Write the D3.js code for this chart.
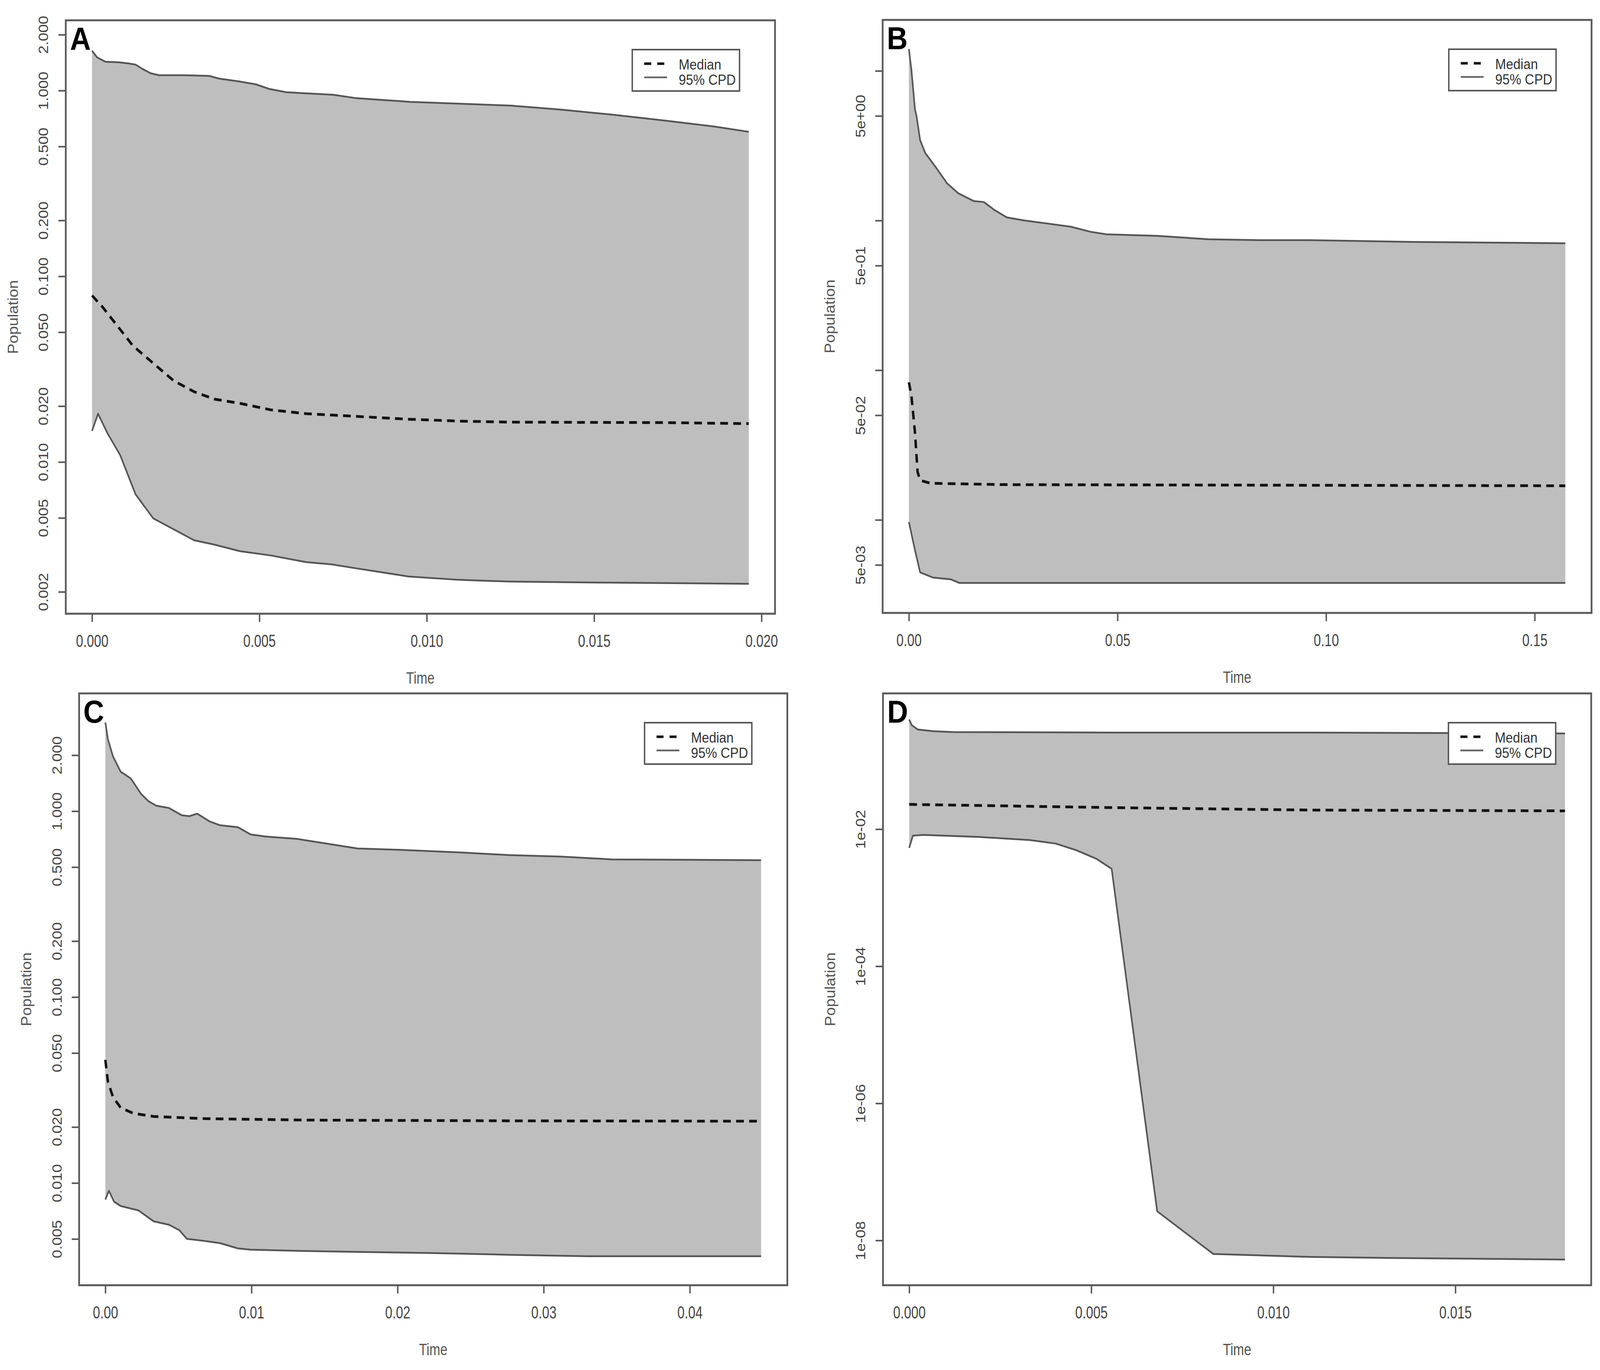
<!DOCTYPE html>
<html><head><meta charset="utf-8">
<script src="https://cdn.jsdelivr.net/npm/d3@7"></script>
<style>html,body{margin:0;padding:0;background:#fff;overflow:hidden;width:100%;height:100%}svg{display:block;width:100vw;height:100vh}</style>
</head><body><svg id="c" viewBox="0 0 4550 3507" preserveAspectRatio="none"></svg>
<script>
// ---------- DATA ----------
const panelLetters = ["A", "B", "C", "D"];
const legendLabels = ["Median", "95% CPD"];
const xTitle = "Time";
const yTitle = "Population";

// Panel A
const aUpperTime = [0, 0.00015, 0.0004, 0.0008, 0.0011, 0.0013, 0.0015, 0.00175, 0.002, 0.0027, 0.0035, 0.0038, 0.0044, 0.0049, 0.0053, 0.0058, 0.0072, 0.0079, 0.0095, 0.011, 0.0125, 0.014, 0.0156, 0.0171, 0.0186, 0.01962];
const aUpperPop  = [1.64, 1.51, 1.43, 1.42, 1.40, 1.38, 1.31, 1.24, 1.21, 1.21, 1.20, 1.16, 1.12, 1.08, 1.02, 0.98, 0.95, 0.91, 0.87, 0.85, 0.83, 0.79, 0.74, 0.69, 0.64, 0.60];
const aMedianTime = [0, 0.0003, 0.00076, 0.00122, 0.00183, 0.00244, 0.00305, 0.00366, 0.00442, 0.00534, 0.0064, 0.00793, 0.00945, 0.01098, 0.0125, 0.01707, 0.01962];
const aMedianPop  = [0.0788, 0.0688, 0.054, 0.0423, 0.034, 0.0274, 0.0239, 0.0218, 0.0207, 0.0191, 0.0182, 0.0176, 0.0170, 0.0166, 0.0164, 0.0163, 0.0161];
const aLowerTime = [0, 0.00018, 0.00046, 0.00084, 0.0013, 0.00183, 0.00244, 0.00305, 0.00366, 0.00442, 0.00534, 0.0064, 0.00716, 0.00793, 0.00945, 0.01098, 0.0125, 0.01555, 0.01962];
const aLowerPop  = [0.0147, 0.0182, 0.0143, 0.0109, 0.0067, 0.00497, 0.00434, 0.00379, 0.00359, 0.00331, 0.00314, 0.00289, 0.00281, 0.00267, 0.00242, 0.00232, 0.00227, 0.00224, 0.00221];
const aXTicks = [0, 0.005, 0.01, 0.015, 0.02];
const aXLabels = ["0.000", "0.005", "0.010", "0.015", "0.020"];
const aYTicks = [2, 1, 0.5, 0.2, 0.1, 0.05, 0.02, 0.01, 0.005, 0.002];
const aYLabels = ["2.000", "1.000", "0.500", "0.200", "0.100", "0.050", "0.020", "0.010", "0.005", "0.002"];
const aYLimits = [0.001525, 2.39];

// Panel B
const bUpperTime = [0, 0.00061, 0.00147, 0.00183, 0.00269, 0.00391, 0.00636, 0.00917, 0.01186, 0.01553, 0.01797, 0.02042, 0.02347, 0.02775, 0.03264, 0.03875, 0.04364, 0.04731, 0.05954, 0.07177, 0.08399, 0.09621, 0.12066, 0.14511, 0.15733];
const bUpperPop  = [14.0, 10.1, 5.5, 5.0, 3.45, 2.83, 2.29, 1.77, 1.52, 1.35, 1.33, 1.18, 1.05, 1.0, 0.96, 0.91, 0.84, 0.81, 0.79, 0.75, 0.74, 0.74, 0.72, 0.71, 0.705];
const bMedianTime = [0, 0.00061, 0.00147, 0.00208, 0.00269, 0.00513, 0.02286, 0.15733];
const bMedianPop  = [0.083, 0.0675, 0.038, 0.0209, 0.0184, 0.01757, 0.0172, 0.0169];
const bLowerTime = [0, 0.00147, 0.00269, 0.00575, 0.01002, 0.0121, 0.15733];
const bLowerPop  = [0.00968, 0.00625, 0.00446, 0.00412, 0.00401, 0.00379, 0.00379];
const bXTicks = [0, 0.05, 0.10, 0.15];
const bXLabels = ["0.00", "0.05", "0.10", "0.15"];
const bYTicks = [10, 5, 1, 0.5, 0.1, 0.05, 0.01, 0.005];
const bYLabels = ["", "5e+00", "", "5e-01", "", "5e-02", "", "5e-03"];
const bYLimits = [0.00239, 21.9];

// Panel C
const cUpperTime = [0, 0.000174, 0.000523, 0.00105, 0.00174, 0.00244, 0.00296, 0.00349, 0.00436, 0.00523, 0.00575, 0.00628, 0.00715, 0.00785, 0.00907, 0.00994, 0.01099, 0.01308, 0.01482, 0.01726, 0.02005, 0.02424, 0.02772, 0.03121, 0.0347, 0.04488];
const cUpperPop  = [3.0, 2.44, 1.97, 1.63, 1.50, 1.24, 1.13, 1.07, 1.04, 0.95, 0.94, 0.97, 0.88, 0.84, 0.82, 0.75, 0.73, 0.71, 0.676, 0.63, 0.62, 0.60, 0.58, 0.57, 0.55, 0.545];
const cMedianTime = [0, 0.000174, 0.000523, 0.00105, 0.00192, 0.00331, 0.0068, 0.01377, 0.02772, 0.04488];
const cMedianPop  = [0.046, 0.0351, 0.029, 0.0254, 0.0237, 0.0228, 0.0222, 0.0218, 0.0216, 0.0215];
const cLowerTime = [0, 0.000244, 0.000593, 0.00105, 0.00227, 0.00331, 0.00436, 0.00506, 0.00558, 0.0068, 0.00785, 0.00907, 0.00994, 0.01238, 0.01726, 0.02249, 0.02772, 0.03296, 0.04488];
const cLowerPop  = [0.00815, 0.00908, 0.00794, 0.00752, 0.00712, 0.00622, 0.00596, 0.00558, 0.00501, 0.00488, 0.00475, 0.00445, 0.00438, 0.00433, 0.00426, 0.0042, 0.00411, 0.00404, 0.00404];
const cXTicks = [0, 0.01, 0.02, 0.03, 0.04];
const cXLabels = ["0.00", "0.01", "0.02", "0.03", "0.04"];
const cYTicks = [2, 1, 0.5, 0.2, 0.1, 0.05, 0.02, 0.01, 0.005];
const cYLabels = ["2.000", "1.000", "0.500", "0.200", "0.100", "0.050", "0.020", "0.010", "0.005"];
const cYLimits = [0.00282, 4.30];

// Panel D
const dUpperTime = [0, 0.00007, 0.00024, 0.00066, 0.00122, 0.00542, 0.01101, 0.01801];
const dUpperPop  = [0.398, 0.329, 0.284, 0.269, 0.261, 0.257, 0.257, 0.249];
const dMedianTime = [0, 0.00542, 0.01101, 0.01801];
const dMedianPop  = [0.023, 0.0207, 0.019, 0.0185];
const dLowerTime = [0, 0.0001, 0.00038, 0.00192, 0.00332, 0.00402, 0.00458, 0.00514, 0.00556, 0.00681, 0.00835, 0.01101, 0.01381, 0.01801];
const dLowerPop  = [0.00533, 0.00803, 0.00826, 0.00769, 0.00694, 0.00617, 0.00495, 0.0037, 0.00264, 2.66e-8, 6.35e-9, 5.74e-9, 5.5e-9, 5.26e-9];
const dXTicks = [0, 0.005, 0.01, 0.015];
const dXLabels = ["0.000", "0.005", "0.010", "0.015"];
const dYTicks = [1e-2, 1e-4, 1e-6, 1e-8];
const dYLabels = ["1e-02", "1e-04", "1e-06", "1e-08"];
const dYLimits = [2.22e-9, 0.957];

// ---------- BUILD ----------
const panels = [
  {letter: panelLetters[0], upT: aUpperTime, upV: aUpperPop, mdT: aMedianTime, mdV: aMedianPop, loT: aLowerTime, loV: aLowerPop, xt: aXTicks, xl: aXLabels, yt: aYTicks, yl: aYLabels, ylim: aYLimits},
  {letter: panelLetters[1], upT: bUpperTime, upV: bUpperPop, mdT: bMedianTime, mdV: bMedianPop, loT: bLowerTime, loV: bLowerPop, xt: bXTicks, xl: bXLabels, yt: bYTicks, yl: bYLabels, ylim: bYLimits},
  {letter: panelLetters[2], upT: cUpperTime, upV: cUpperPop, mdT: cMedianTime, mdV: cMedianPop, loT: cLowerTime, loV: cLowerPop, xt: cXTicks, xl: cXLabels, yt: cYTicks, yl: cYLabels, ylim: cYLimits},
  {letter: panelLetters[3], upT: dUpperTime, upV: dUpperPop, mdT: dMedianTime, mdV: dMedianPop, loT: dLowerTime, loV: dLowerPop, xt: dXTicks, xl: dXLabels, yt: dYTicks, yl: dYLabels, ylim: dYLimits}
];

// layout (plot box edges in px of the 4550x3507 frame)
const boxes = [
  {left: 187, top: 52, right: 2204, bottom: 1571},
  {left: 2510, top: 51, right: 4526, bottom: 1569},
  {left: 225, top: 1775, right: 2239, bottom: 3290},
  {left: 2511, top: 1775, right: 4525, bottom: 3290}
];

const FONT = "'Liberation Sans', Arial, Helvetica, sans-serif";
const svg = d3.select("#c");
svg.append("rect").attr("width", 4550).attr("height", 3507).attr("fill", "#fff");

panels.forEach((p, i) => drawPanel(p, boxes[i]));

function drawPanel(p, L) {
  const g = svg.append("g");
  const tMax = d3.max([].concat(p.upT, p.mdT, p.loT));
  const x = d3.scaleLinear().domain([-0.04 * tMax, 1.04 * tMax]).range([L.left, L.right]);
  const y = d3.scaleLog().domain(p.ylim).range([L.bottom, L.top]);

  const up = p.upT.map((t, k) => [t, p.upV[k]]);
  const lo = p.loT.map((t, k) => [t, p.loV[k]]);
  const md = p.mdT.map((t, k) => [t, p.mdV[k]]);
  const line = d3.line().x(d => x(d[0])).y(d => y(d[1]));

  g.append("path").attr("d", line(up.concat(lo.slice().reverse())) + "Z")
    .attr("fill", "#bebebe").attr("stroke", "none");
  [up, lo].forEach(s => g.append("path").attr("d", line(s)).attr("fill", "none")
    .attr("stroke", "#555").attr("stroke-width", 4.5).attr("stroke-linejoin", "round"));
  g.append("path").attr("d", line(md)).attr("fill", "none")
    .attr("stroke", "#111").attr("stroke-width", 7).attr("stroke-dasharray", "22,15");

  const xa = g.append("g").attr("transform", `translate(0,${L.bottom})`)
    .call(d3.axisBottom(x).tickValues(p.xt).tickFormat((d, k) => p.xl[k]).tickSize(21).tickSizeOuter(0));
  xa.select(".domain").remove();
  xa.selectAll(".tick line").attr("stroke", "#555").attr("stroke-width", 4);
  xa.selectAll(".tick text").attr("y", 85).attr("dy", 0)
    .attr("font-family", FONT).attr("font-size", 44).attr("fill", "#444")
    .attr("transform", "scale(0.84,1)");

  const ya = g.append("g").attr("transform", `translate(${L.left},0)`)
    .call(d3.axisLeft(y).tickValues(p.yt).tickFormat((d, k) => p.yl[k]).tickSize(21).tickSizeOuter(0));
  ya.select(".domain").remove();
  ya.selectAll(".tick line").attr("stroke", "#555").attr("stroke-width", 4);
  ya.selectAll(".tick text").attr("x", 0).attr("y", 0).attr("dy", 0)
    .attr("text-anchor", "middle")
    .attr("transform", "translate(-50,0) rotate(-90)")
    .attr("font-family", FONT).attr("font-size", 39).attr("fill", "#444");

  g.append("rect").attr("x", L.left).attr("y", L.top)
    .attr("width", L.right - L.left).attr("height", L.bottom - L.top)
    .attr("fill", "none").attr("stroke", "#5a5a5a").attr("stroke-width", 5);

  const cx = (L.left + L.right) / 2;
  g.append("text").attr("x", cx).attr("y", L.bottom + 179)
    .attr("text-anchor", "middle").attr("font-family", FONT).attr("font-size", 42)
    .attr("fill", "#555").text(xTitle)
    .attr("transform", `translate(${cx},0) scale(0.88,1) translate(${-cx},0)`);
  g.append("text").attr("transform", `translate(${L.left - 150},${(L.top + L.bottom) / 2}) rotate(-90)`)
    .attr("text-anchor", "middle").attr("dominant-baseline", "central")
    .attr("font-family", FONT).attr("font-size", 40).attr("fill", "#555").text(yTitle);

  const lw = 305, lh = 106;
  const lx = L.right - 101 - lw, ly = L.top + 75;
  const lg = g.append("g");
  lg.append("rect").attr("x", lx).attr("y", ly).attr("width", lw).attr("height", lh)
    .attr("fill", "#fff").attr("stroke", "#555").attr("stroke-width", 4);
  lg.append("line").attr("x1", lx + 34).attr("x2", lx + 99).attr("y1", ly + 36).attr("y2", ly + 36)
    .attr("stroke", "#111").attr("stroke-width", 6.5).attr("stroke-dasharray", "20,17");
  lg.append("line").attr("x1", lx + 34).attr("x2", lx + 99).attr("y1", ly + 71).attr("y2", ly + 71)
    .attr("stroke", "#666").attr("stroke-width", 4.5);
  legendLabels.forEach((t, k) => lg.append("text").attr("x", lx + 132).attr("y", ly + 51 + k * 39)
    .attr("font-family", FONT).attr("font-size", 37).attr("fill", "#333").text(t));

  g.append("text").attr("x", L.left + 12).attr("y", L.top + 75)
    .attr("font-family", FONT).attr("font-weight", "bold").attr("font-size", 82)
    .attr("fill", "#000").text(p.letter);
}
</script>
</body></html>
